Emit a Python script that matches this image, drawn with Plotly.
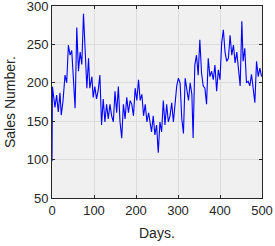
import plotly.graph_objects as go

days = [0, 1, 7, 11, 15, 19, 22, 26, 31, 35, 39, 43, 47, 51, 55, 59, 63, 67, 71, 75,
        79, 83, 87, 90, 95, 98, 102, 106, 110, 114, 118, 122, 126, 130, 134, 138, 142,
        146, 150, 154, 158, 162, 166, 170, 174, 178, 182, 186, 190, 194, 198, 202, 206,
        210, 214, 218, 222, 226, 230, 234, 237, 241, 245, 249, 253, 257, 261, 265, 269,
        273, 277, 281, 285, 289, 293, 297, 301, 305, 309, 313, 317, 321, 325, 329, 333,
        336, 340, 344, 348, 352, 356, 360, 364, 368, 372, 376, 380, 384, 388, 392, 396,
        400, 404, 408, 412, 416, 420, 424, 428, 432, 436, 440, 444, 448, 452, 455, 459,
        463, 467, 471, 475, 479, 483, 487, 491, 495, 499]
sales = [98, 195, 168, 184, 162, 187, 158, 175, 210, 200, 249, 236, 242, 196, 167, 272,
         215, 240, 224, 290, 228, 193, 232, 193, 208, 181, 195, 179, 190, 210, 145, 179,
         149, 172, 153, 172, 157, 149, 189, 161, 195, 149, 128, 172, 153, 181, 161, 177,
         172, 157, 193, 177, 204, 177, 185, 157, 172, 149, 161, 145, 136, 157, 132, 145,
         109, 149, 136, 177, 145, 172, 149, 157, 174, 149, 179, 196, 206, 200, 153, 134,
         206, 191, 177, 200, 185, 128, 223, 236, 210, 256, 213, 196, 193, 172, 232, 208,
         215, 204, 223, 189, 217, 204, 252, 269, 240, 228, 232, 262, 236, 249, 226, 240,
         217, 196, 280, 228, 245, 200, 202, 196, 211, 193, 174, 228, 208, 219, 208]

x_ticks = [0, 100, 200, 300, 400, 500]
y_ticks = [50, 100, 150, 200, 250, 300]

FONT = "Liberation Sans, Arial, Helvetica"

fig = go.Figure()
fig.add_trace(go.Scatter(x=days, y=sales, mode="lines",
                         line=dict(color="#0000ff", width=1.1)))

axis_common = dict(showline=True, linecolor="#262626", linewidth=1, mirror="ticks",
                   ticks="inside", ticklen=3, tickcolor="#262626",
                   showgrid=True, gridcolor="#dcdcdc", gridwidth=1, zeroline=False,
                   automargin=False, ticklabeloverflow="allow",
                   tickfont=dict(family=FONT, size=13, color="#262626"))

fig.update_layout(
    width=275, height=246,
    margin=dict(l=52, r=13, t=6, b=48, autoexpand=False),
    paper_bgcolor="white", plot_bgcolor="#f0f0f0",
    showlegend=False,
    xaxis=dict(range=[0, 500], tickvals=x_ticks, **axis_common),
    yaxis=dict(range=[50, 300], tickvals=y_ticks, **axis_common),
    annotations=[
        dict(text="Days.", xref="paper", yref="paper", x=0.5, y=-0.13,
             xanchor="center", yanchor="top", showarrow=False,
             font=dict(family=FONT, size=14, color="#262626")),
        dict(text="Sales Number.", xref="paper", yref="paper", x=-0.2, y=0.5,
             xanchor="center", yanchor="middle", textangle=-90, showarrow=False,
             font=dict(family=FONT, size=14, color="#262626")),
    ],
)

fig.write_html("out.html", config={"displayModeBar": False},
               post_script="document.body.style.margin='0';document.body.style.padding='0';")
